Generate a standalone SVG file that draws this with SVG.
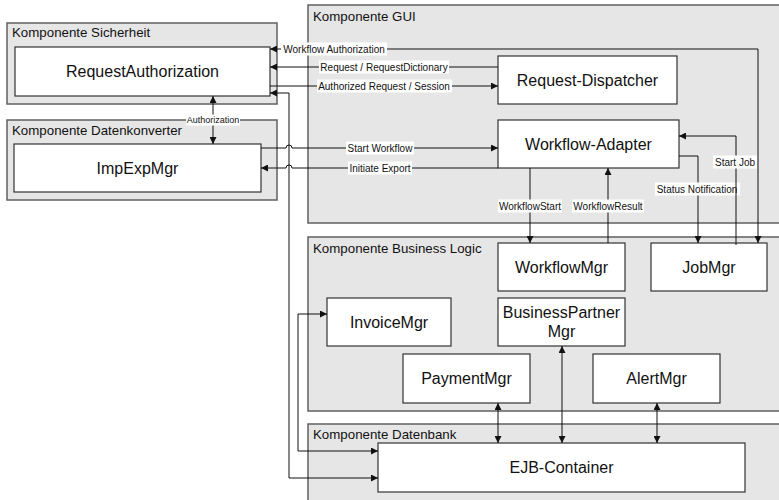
<svg xmlns="http://www.w3.org/2000/svg" width="779" height="500" viewBox="0 0 779 500">
<style>
.comp{fill:#e6e6e6;stroke:#606060;stroke-width:1.5}
.node{fill:#fff;stroke:#333;stroke-width:1.2}
.ctitle{font-family:"Liberation Sans",Arial,sans-serif;font-size:13.3px;fill:#111}
.ntext{font-family:"Liberation Sans",Arial,sans-serif;font-size:16px;fill:#111;text-anchor:middle}
.line{fill:none;stroke:#111;stroke-width:1}
.lbg{fill:#fff}
.lbl{font-family:"Liberation Sans",Arial,sans-serif;font-size:10px;fill:#111;text-anchor:middle}
</style>
<defs>
<marker id="ah" viewBox="0 0 10 10" refX="10" refY="5" markerWidth="9" markerHeight="7" markerUnits="userSpaceOnUse" orient="auto-start-reverse">
<path d="M0,0 L10,5 L0,10 z" fill="#111"/>
</marker>
</defs>
<rect width="779" height="500" fill="#fff"/>

<g id="comp-sicherheit">
<rect class="comp" x="7" y="23" width="270" height="81"/>
<text class="ctitle" x="12" y="37">Komponente Sicherheit</text>
</g>
<g id="comp-datenkonverter">
<rect class="comp" x="7" y="120" width="270" height="80"/>
<text class="ctitle" x="12" y="135">Komponente Datenkonverter</text>
</g>
<g id="comp-gui">
<rect class="comp" x="308" y="5" width="480" height="218"/>
<text class="ctitle" x="313" y="21">Komponente GUI</text>
</g>
<g id="comp-business">
<rect class="comp" x="308" y="237" width="480" height="174"/>
<text class="ctitle" x="313" y="253">Komponente Business Logic</text>
</g>
<g id="comp-datenbank">
<rect class="comp" x="308" y="424" width="480" height="90"/>
<text class="ctitle" x="313" y="439">Komponente Datenbank</text>
</g>

<g id="RequestAuthorization">
<rect class="node" x="15" y="47" width="255" height="49"/>
<text class="ntext" x="142.5" y="77">RequestAuthorization</text>
</g>
<g id="ImpExpMgr">
<rect class="node" x="14" y="144" width="247" height="48"/>
<text class="ntext" x="137.5" y="174">ImpExpMgr</text>
</g>
<g id="RequestDispatcher">
<rect class="node" x="498" y="56" width="179" height="48"/>
<text class="ntext" x="587.5" y="86">Request-Dispatcher</text>
</g>
<g id="WorkflowAdapter">
<rect class="node" x="498" y="120" width="181" height="48"/>
<text class="ntext" x="588.5" y="150">Workflow-Adapter</text>
</g>
<g id="WorkflowMgr">
<rect class="node" x="498" y="243" width="127" height="48"/>
<text class="ntext" x="561.5" y="273">WorkflowMgr</text>
</g>
<g id="JobMgr">
<rect class="node" x="651" y="243" width="116" height="48"/>
<text class="ntext" x="709" y="273">JobMgr</text>
</g>
<g id="BusinessPartnerMgr">
<rect class="node" x="498" y="298" width="127" height="48"/>
<text class="ntext" x="561.5" y="318">BusinessPartner</text>
<text class="ntext" x="561.5" y="337">Mgr</text>
</g>
<g id="InvoiceMgr">
<rect class="node" x="327" y="298" width="124" height="48"/>
<text class="ntext" x="389" y="328">InvoiceMgr</text>
</g>
<g id="PaymentMgr">
<rect class="node" x="403" y="354" width="127" height="49"/>
<text class="ntext" x="466.5" y="384">PaymentMgr</text>
</g>
<g id="AlertMgr">
<rect class="node" x="593" y="354" width="127" height="49"/>
<text class="ntext" x="656.5" y="384">AlertMgr</text>
</g>
<g id="EJBContainer">
<rect class="node" x="378" y="443" width="367" height="49"/>
<text class="ntext" x="561.5" y="473">EJB-Container</text>
</g>

<g id="connectors">
<!-- Workflow Authorization -->
<path class="line" d="M758,49 L270,49" marker-end="url(#ah)"/>
<path class="line" d="M758,49 L758,243" marker-end="url(#ah)"/>
<rect class="lbg" x="281" y="42.5" width="106" height="13"/>
<text class="lbl" x="334" y="52.5">Workflow Authorization</text>
<!-- Request / RequestDictionary -->
<path class="line" d="M498,67 L270,67" marker-end="url(#ah)"/>
<rect class="lbg" x="319" y="60.5" width="130" height="13"/>
<text class="lbl" x="384" y="70.5">Request / RequestDictionary</text>
<!-- Authorized Request / Session -->
<path class="line" d="M270,86 L498,86" marker-end="url(#ah)"/>
<rect class="lbg" x="317" y="79.5" width="135" height="13"/>
<text class="lbl" x="384" y="89.5">Authorized Request / Session</text>
<!-- Authorization -->
<path class="line" d="M213,96 L213,144" marker-start="url(#ah)" marker-end="url(#ah)"/>
<rect class="lbg" x="186" y="114.5" width="54" height="11"/>
<text class="lbl" x="213" y="123" style="font-size:9px">Authorization</text>
<!-- RequestAuthorization <-> EJB -->
<path class="line" d="M270,93 L289,93 L289,478 L378,478" marker-start="url(#ah)" marker-end="url(#ah)"/>
<!-- InvoiceMgr <-> EJB -->
<path class="line" d="M327,314 L298,314 L298,451 L378,451" marker-start="url(#ah)" marker-end="url(#ah)"/>
<!-- Start Workflow -->
<path class="line" d="M261,148 L286,148 A3,3 0 0 1 292,148 L498,148" marker-end="url(#ah)"/>
<rect class="lbg" x="346" y="141.5" width="68" height="13"/>
<text class="lbl" x="380" y="151.5">Start Workflow</text>
<!-- Initiate Export -->
<path class="line" d="M498,168 L292,168 A3,3 0 0 0 286,168 L261,168" marker-end="url(#ah)"/>
<rect class="lbg" x="348" y="161.5" width="64" height="13"/>
<text class="lbl" x="380" y="171.5">Initiate Export</text>
<!-- WorkflowStart -->
<path class="line" d="M530,168 L530,243" marker-end="url(#ah)"/>
<rect class="lbg" x="498" y="199.5" width="64" height="13"/>
<text class="lbl" x="530" y="209.5">WorkflowStart</text>
<!-- WorkflowResult -->
<path class="line" d="M608,243 L608,168" marker-end="url(#ah)"/>
<rect class="lbg" x="572" y="199.5" width="72" height="13"/>
<text class="lbl" x="608" y="209.5">WorkflowResult</text>
<!-- Status Notification -->
<path class="line" d="M679,156 L698,156 L698,243" marker-end="url(#ah)"/>
<rect class="lbg" x="655" y="182.5" width="85" height="13"/>
<text class="lbl" x="697" y="192.5">Status Notification</text>
<!-- Start Job -->
<path class="line" d="M736,245 L736,136 L679,136" marker-end="url(#ah)"/>
<rect class="lbg" x="713" y="155.5" width="44" height="13"/>
<text class="lbl" x="735" y="165.5">Start Job</text>
<!-- DB links -->
<path class="line" d="M562,346 L562,443" marker-start="url(#ah)" marker-end="url(#ah)"/>
<path class="line" d="M498,403 L498,443" marker-start="url(#ah)" marker-end="url(#ah)"/>
<path class="line" d="M657,403 L657,443" marker-start="url(#ah)" marker-end="url(#ah)"/>
</g>
</svg>
